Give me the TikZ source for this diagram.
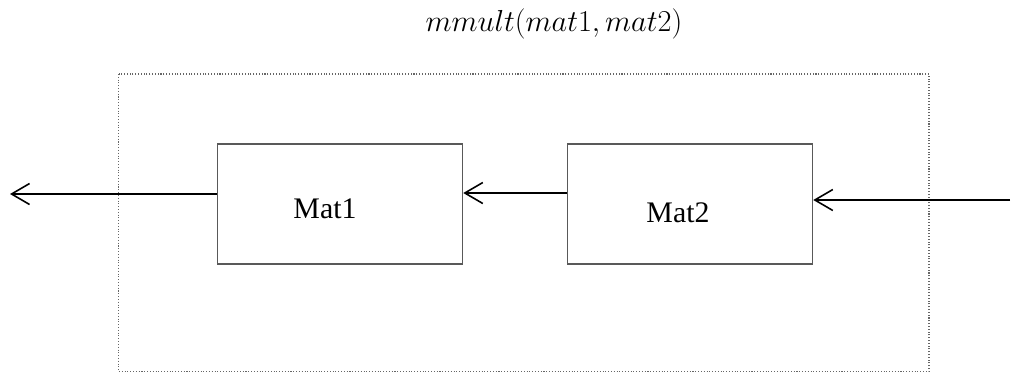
\documentclass[tikz,border=0pt]{standalone}
\usepackage{fontspec}
\setmainfont{Liberation Serif}
\usetikzlibrary{arrows.meta}

\begin{document}
\begin{tikzpicture}[x=0.02cm, y=-0.02cm]

		% styles
		\tikzset{
			matbox/.style={draw=black!65, line width=0.6pt, minimum width=4.91cm, minimum height=2.4cm, inner sep=0pt},
			matlabel/.style={font=\fontsize{17}{20}\selectfont, anchor=base, inner sep=0pt},
			flow/.style={line width=1.1pt, -{Straight Barb[length=0.36cm, width=0.42cm, line width=0.9pt]}}
		}
		\useasboundingbox (0,0) rectangle (1013,373);

		% Title
		\node[font=\fontsize{18.6}{22}\selectfont, anchor=base] (title) at (554,31) {$mmult(mat1,mat2)$};

		% Outer dotted frame
		\draw[black!60, line width=0.6pt, densely dotted] (118.5,74) rectangle (929,371.5);

		% Matrix boxes
		\node[matbox] (mat1) at (340,204) {};
		\node[matbox] (mat2) at (690,204) {};
		\node[matlabel] (mat1txt) at (325,218) {Mat1};
		\node[matlabel] (mat2txt) at (678,222) {Mat2};

		% Free ends
		\coordinate (out) at (10,194);
		\coordinate (in) at (1010,200);

		% Connectors
		\draw[flow] (mat1.west |- out) -- (out);
		\draw[flow] ([yshift=0.22cm]mat2.west) -- ([yshift=0.22cm]mat1.east);
		\draw[flow] (in) -- (mat2.east |- in);

\end{tikzpicture}
\end{document}
